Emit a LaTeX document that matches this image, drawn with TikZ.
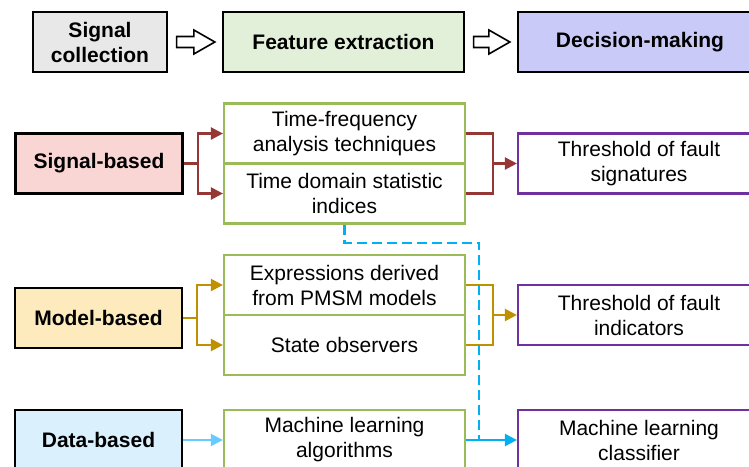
\documentclass[tikz,border=0pt]{standalone}
\usepackage{fontspec}
\setmainfont{Liberation Sans}
\usepackage{tikz}
\usetikzlibrary{positioning,calc,arrows.meta}

\definecolor{collfill}{HTML}{E8E8E8}
\definecolor{featfill}{HTML}{E2F0D9}
\definecolor{decfill}{HTML}{CACAF8}
\definecolor{sigfill}{HTML}{F9D6D4}
\definecolor{modfill}{HTML}{FDEABD}
\definecolor{datfill}{HTML}{DAF0FD}
\definecolor{featgreen}{HTML}{9BBB59}
\definecolor{decpurple}{HTML}{7030A0}
\definecolor{sigred}{HTML}{953735}
\definecolor{modgold}{HTML}{BF9000}
\definecolor{datblue}{HTML}{00B0F0}
\definecolor{datlight}{HTML}{66CCFF}

\begin{document}
\begin{tikzpicture}[x=1pt,y=-1pt,
  font=\fontsize{21}{25}\selectfont,
  stage/.style={draw=black,line width=2.3pt,minimum height=60pt,align=center,inner sep=0pt,font=\fontsize{21}{25}\selectfont\bfseries},
  method/.style={draw=black,line width=2.3pt,minimum width=167pt,minimum height=60pt,inner sep=0pt,font=\fontsize{21}{25}\selectfont\bfseries},
  feat/.style={draw=featgreen,line width=2.2pt,minimum width=241pt,minimum height=60pt,align=center,inner sep=0pt},
  dec/.style={draw=decpurple,line width=2.2pt,minimum width=242pt,minimum height=60pt,align=center,inner sep=0pt},
  hollow/.style={draw=black,line width=1.6pt,fill=white,line join=miter},
  tip/.style={-{Triangle[length=12pt,width=12pt]}},
  sigline/.style={draw=sigred,line width=2.3pt},
  modline/.style={draw=modgold,line width=2.3pt},
  datline/.style={draw=datblue,line width=2.3pt},
  dashline/.style={draw=datblue,line width=2.2pt,dash pattern=on 10pt off 5pt}
]
\useasboundingbox (0,0) rectangle (749,466);

\node[stage,fill=collfill,minimum width=134pt] (sc) at (100,42) {Signal\\collection};
\node[stage,fill=featfill,minimum width=241pt] (fe) at (343.5,42) {Feature extraction};
\node[stage,fill=decfill,minimum width=244pt] (dm) at (640,42) {Decision-making};

\foreach \a/\b in {sc/fe,fe/dm}{
  \coordinate (t) at ($(\a.east)+(8.5,0)$);
  \coordinate (h) at ($(\b.west)+(-7,0)$);
  \draw[hollow] ($(t)+(0,-5.5)$) -- ($(h)+(-21,-5.5)$) -- ($(h)+(-21,-12)$) -- (h)
    -- ($(h)+(-21,12)$) -- ($(h)+(-21,5.5)$) -- ($(t)+(0,5.5)$) -- cycle;
}

\node[method,fill=sigfill] (sb) at (99,163.5) {Signal-based};
\node[feat] (tf) at (344.5,133.5) {Time-frequency\\analysis techniques};
\node[feat] (td) at (344.5,193.5) {Time domain statistic\\indices};
\node[dec] (ts) at (639,163.5) {Threshold of fault\\signatures};

\node[method,fill=modfill] (mb) at (98.5,318) {Model-based};
\node[feat] (ex) at (344.5,285) {Expressions derived\\from PMSM models};
\node[feat] (so) at (344.5,345) {State observers};
\node[dec] (ti) at (639,315) {Threshold of fault\\indicators};

\node[method,fill=datfill] (db) at (98.5,440) {Data-based};
\node[feat] (ml) at (344.5,440) {Machine learning\\algorithms};
\node[dec] (mc) at (639,440) {Machine learning\\classifier};

\coordinate (sj) at (493,163.5);
\coordinate (mj) at (493,315);
\coordinate (dj) at (479,440);

\draw[sigline,tip] (sb.east) -- ++(14,0) |- (tf.west);
\draw[sigline,tip] (sb.east) -- ++(14,0) |- (td.west);
\draw[sigline] (tf.east) -| (sj) |- (td.east);
\draw[sigline,tip] (sj) -- (ts.west);

\draw[modline,tip] (mb.east) -- ++(14,0) |- (ex.west);
\draw[modline,tip] (mb.east) -- ++(14,0) |- (so.west);
\draw[modline] (ex.east) -| (mj) |- (so.east);
\draw[modline,tip] (mj) -- (ti.west);

\draw[datline,draw=datlight,line width=1.8pt,tip] (db.east) -- (ml.west);
\draw[datline,tip] (ml.east) -- (mc.west);
\draw[dashline] (td.south) -- ++(0,18) -| (dj);

\end{tikzpicture}
\end{document}
